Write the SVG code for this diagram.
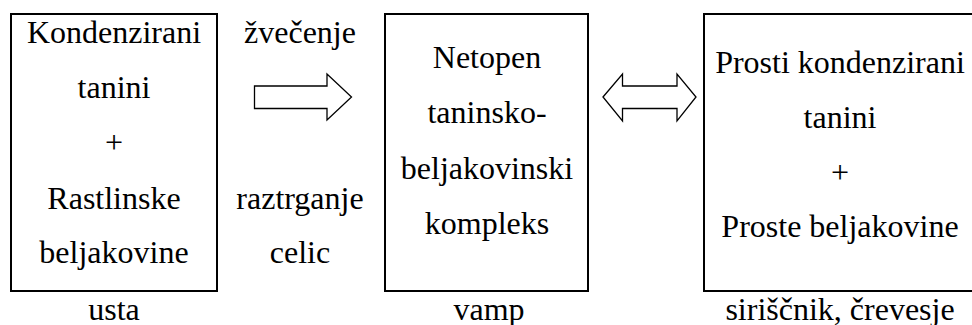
<svg xmlns="http://www.w3.org/2000/svg" width="972" height="325" viewBox="0 0 972 325">
  <style>
    .box { fill: #ffffff; stroke: #000000; stroke-width: 2; }
    .arrow { fill: #ffffff; stroke: #000000; stroke-width: 1.3; stroke-linejoin: miter; }
  </style>
  <rect width="972" height="325" fill="#ffffff"/>

  <g font-family="'Liberation Serif', 'DejaVu Serif', serif" font-size="32" fill="#000000" text-anchor="middle">
    <g id="node-start">
      <rect class="box" x="11" y="14" width="206" height="277"/>
      <text x="114" y="43">Kondenzirani</text>
      <text x="114" y="98">tanini</text>
      <text x="114" y="153">+</text>
      <text x="114" y="209">Rastlinske</text>
      <text x="114" y="263">beljakovine</text>
      <text x="114" y="320">usta</text>
    </g>

    <g id="node-complex">
      <rect class="box" x="385" y="14" width="203" height="277"/>
      <text x="487" y="68">Netopen</text>
      <text x="487" y="123">taninsko-</text>
      <text x="487" y="179">beljakovinski</text>
      <text x="487" y="234">kompleks</text>
      <text x="489" y="320">vamp</text>
    </g>

    <g id="node-simple">
      <rect class="box" x="704" y="14" width="280" height="277"/>
      <text x="840" y="73">Prosti kondenzirani</text>
      <text x="840" y="128">tanini</text>
      <text x="840" y="183">+</text>
      <text x="840" y="237">Proste beljakovine</text>
      <text x="840" y="320">siriščnik, črevesje</text>
    </g>

    <g id="connectors">
      <polygon class="arrow" points="254.5,86 327,86 327,74 351.5,97 327,120 327,108.5 254.5,108.5"/>
      <text x="300" y="43">žvečenje</text>
      <text x="300" y="209">raztrganje</text>
      <text x="300" y="263">celic</text>
      <polygon class="arrow" points="603,97 622.5,74 622.5,86 677,86 677,74 696,97 677,121 677,108.5 622.5,108.5 622.5,121"/>
    </g>
  </g>
</svg>
